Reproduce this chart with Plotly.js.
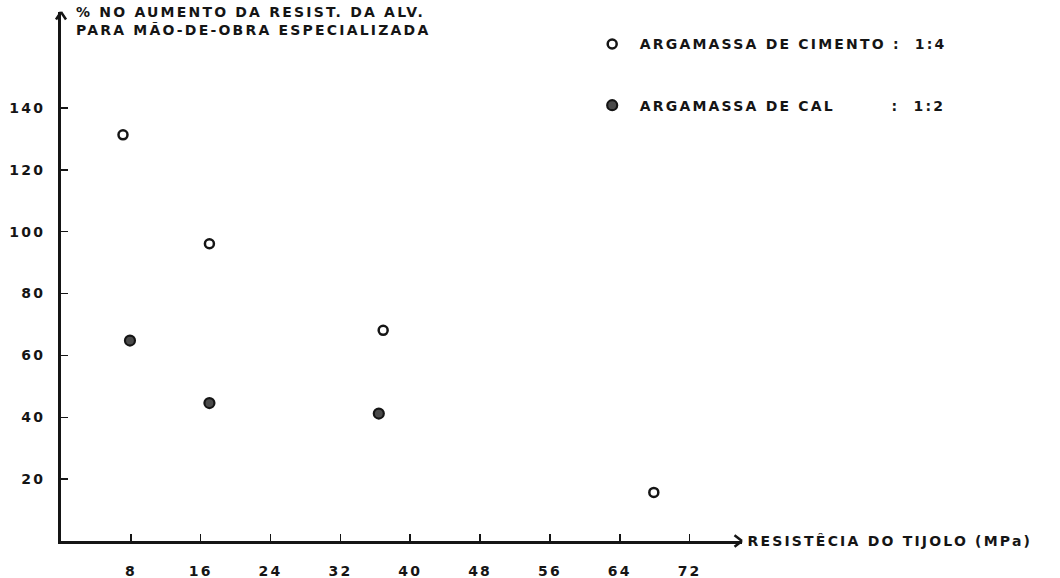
<!DOCTYPE html>
<html>
<head>
<meta charset="utf-8">
<script src="https://cdn.plot.ly/plotly-3.0.1.min.js"></script>
<style>
  body { margin: 0; background: #fff; }
  #grafico { width: 1060px; height: 578px; }
  #grafico svg text { letter-spacing: 2.2px; }
</style>
</head>
<body>
<div id="grafico"></div>
<script>
// Resistência do tijolo (MPa) x % de aumento da resistência da alvenaria
let tijoloCimento = [7.1, 17.0, 36.9, 67.9];
let aumentoCimento = [131.3, 96.1, 68.1, 15.7];

let tijoloCal = [7.9, 17.0, 36.4];
let aumentoCal = [64.8, 44.6, 41.2];

let ticksX = [8, 16, 24, 32, 40, 48, 56, 64, 72];
let ticksY = [20, 40, 60, 80, 100, 120, 140];

let tinta = '#151515';
let fonte = 'DejaVu Sans, sans-serif';
let letra = { family: fonte, size: 14, weight: 'bold', color: tinta };
let esp = n => '\u00a0'.repeat(n);
// folga no fim p/ a legenda não cortar o texto espaçado
let nomeCimento = 'ARGAMASSA DE CIMENTO' + esp(1) + ':' + esp(2) + '1:4' + esp(14);
let nomeCal = 'ARGAMASSA DE CAL' + esp(8) + ':' + esp(2) + '1:2' + esp(14);

// traço de seta (linha simples, sem ponta)
function traco(x, y, ax, ay) {
    return {
        x: x, y: y, xref: 'x', yref: 'y', ax: ax, ay: ay,
        text: '', showarrow: true, arrowhead: 0, arrowwidth: 2.5, arrowcolor: tinta,
        standoff: 0, startstandoff: 0
    };
}

let data = [
    {
        x: tijoloCimento, y: aumentoCimento,
        mode: 'markers', type: 'scatter',
        name: nomeCimento,
        legendgroup: 'a',
        cliponaxis: false,
        marker: { symbol: 'circle', size: 9, color: '#fff', line: { color: tinta, width: 2.5 } }
    },
    {
        x: tijoloCal, y: aumentoCal,
        mode: 'markers', type: 'scatter',
        name: nomeCal,
        legendgroup: 'b',
        cliponaxis: false,
        marker: { symbol: 'circle', size: 10, color: '#4a4a4a', line: { color: tinta, width: 2.2 } }
    }
];

let layout = {
    width: 1060, height: 578,
    margin: { l: 61, r: 318, t: 12, b: 37 },
    paper_bgcolor: '#fff', plot_bgcolor: '#fff',
    font: { family: fonte, color: tinta, size: 14 },
    showlegend: true,
    legend: {
        x: 0.769, xanchor: 'left', y: 0.969, yanchor: 'top',
        xref: 'paper', yref: 'paper',
        tracegroupgap: 40,
        itemwidth: 45,
        font: letra
    },
    xaxis: {
        range: [0, 78],
        showgrid: false, zeroline: false,
        showline: true, linecolor: tinta, linewidth: 3,
        ticks: 'inside', ticklen: 7, tickwidth: 1.5, tickcolor: tinta,
        tickvals: ticksX,
        ticklabelstandoff: 15,
        tickfont: letra
    },
    yaxis: {
        range: [0, 171],
        showgrid: false, zeroline: false,
        showline: true, linecolor: tinta, linewidth: 3,
        ticks: 'inside', ticklen: 7, tickwidth: 1.5, tickcolor: tinta,
        tickvals: ticksY,
        ticklabelstandoff: 10,
        tickfont: letra
    },
    annotations: [
        traco(78, 0, -9, -7),
        traco(78, 0, -9, 7),
        traco(0, 171, -6, 9),
        traco(0, 171, 6, 9),
        {
            text: '% NO AUMENTO DA RESIST. DA ALV.<br>PARA MÃO-DE-OBRA ESPECIALIZADA',
            xref: 'paper', yref: 'paper', x: 0, y: 1, xshift: 13, yshift: 10,
            xanchor: 'left', yanchor: 'top', align: 'left', showarrow: false,
            font: letra
        },
        {
            text: 'RESISTÊCIA DO TIJOLO (MPa)',
            xref: 'paper', yref: 'y', x: 1, y: 0, xshift: 32,
            xanchor: 'left', yanchor: 'middle', showarrow: false,
            font: letra
        }
    ]
};

Plotly.newPlot('grafico', data, layout, { displayModeBar: false, staticPlot: true });
</script>
</body>
</html>
